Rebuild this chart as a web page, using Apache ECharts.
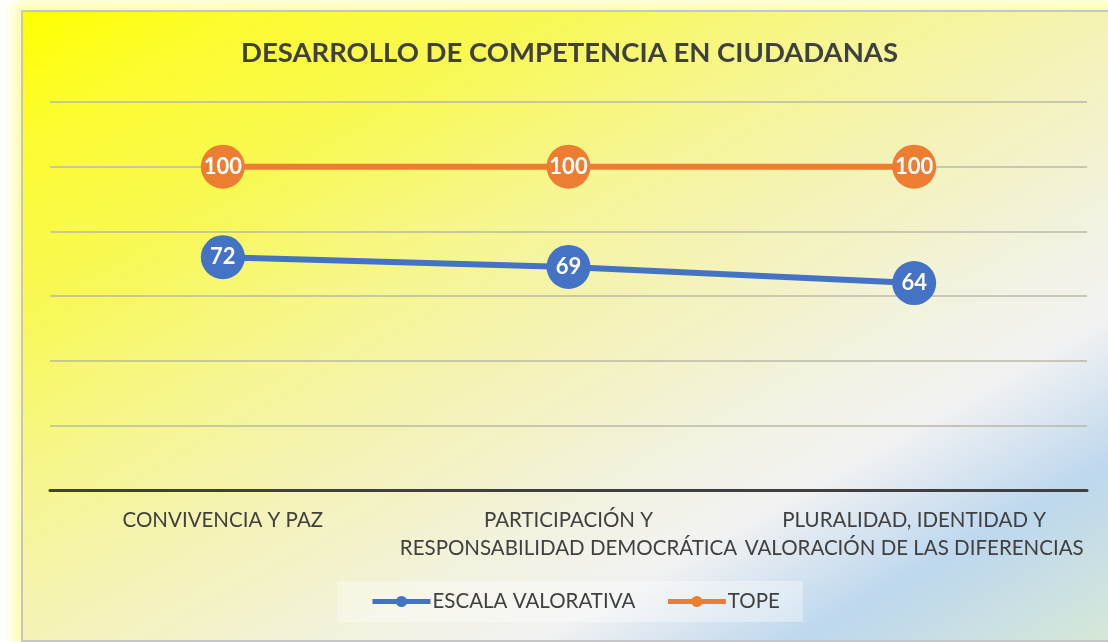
<!DOCTYPE html>
<html>

<head>
    <meta charset='UTF-8'>
    <script src="https://cdn.jsdelivr.net/npm/echarts@6/dist/echarts.min.js"></script>
    <style>
        html,
        body {
            margin: 0;
            padding: 0;
            background: #ffffff;
            overflow: hidden;
        }

        #frame {
            position: absolute;
            left: 21px;
            top: 10px;
            width: 1110px;
            height: 628px;
            border: 2px solid #c4c6cc;
            box-shadow: 0 0 12px 7px rgba(255, 255, 80, 0.55);
            background: linear-gradient(to bottom right, #ffff00 0%, #fcfc30 10%, #f8f855 24%, #f6f690 38%, #f4f3b0 48%, #f3f2cc 58%, #f2f2e4 66%, #f2f2f2 73%, #bdd7ee 85%, #d8e9d6 100%);
        }

        #chart {
            position: absolute;
            left: 0;
            top: 0;
            width: 1108px;
            height: 642px;
        }
    </style>
    <title>Competencias ciudadanas</title>
</head>

<body>
    <div id="frame"></div>
    <div id="chart"></div>

    <script>
        var categories = [
            'CONVIVENCIA Y PAZ',
            'PARTICIPACIÓN Y\nRESPONSABILIDAD DEMOCRÁTICA',
            'PLURALIDAD, IDENTIDAD Y\nVALORACIÓN DE LAS DIFERENCIAS'
        ];
        var escala = [72, 69, 64];
        var tope = [100, 100, 100];

        var myChart = echarts.init(document.getElementById('chart'), null, {
            renderer: 'canvas'
        });

        var labelStyle = {
            show: true,
            position: 'inside',
            color: '#ffffff',
            fontSize: 22,
            fontWeight: 'bold',
            fontFamily: 'Lato'
        };

        var option = {
            backgroundColor: 'rgba(0,0,0,0)',
            textStyle: {
                fontFamily: 'Lato'
            },
            title: {
                text: 'DESARROLLO DE COMPETENCIA EN CIUDADANAS',
                left: 236,
                top: 34,
                textStyle: {
                    color: '#404040',
                    fontSize: 27.5,
                    fontWeight: 'bold',
                    fontFamily: 'Lato'
                }
            },
            legend: {
                left: 337,
                top: 581,
                padding: [10, 23, 10, 33],
                itemGap: 30,
                itemWidth: 58,
                itemHeight: 14,
                backgroundColor: 'rgba(255,255,255,0.35)',
                lineStyle: {
                    width: 5
                },
                textStyle: {
                    color: '#404040',
                    fontSize: 20.5,
                    fontFamily: 'Lato',
                    padding: [0, 0, 0, -3]
                },
                data: ['ESCALA VALORATIVA', 'TOPE']
            },
            grid: {
                left: 50,
                right: 21,
                top: 102,
                bottom: 152
            },
            xAxis: {
                type: 'category',
                boundaryGap: true,
                data: categories,
                axisLine: {
                    lineStyle: {
                        color: '#404040',
                        width: 3
                    }
                },
                axisTick: {
                    show: false
                },
                axisLabel: {
                    interval: 0,
                    margin: 16,
                    color: '#404040',
                    fontSize: 20.5,
                    lineHeight: 28,
                    fontFamily: 'Lato'
                }
            },
            yAxis: {
                type: 'value',
                min: 0,
                max: 120,
                interval: 20,
                axisLabel: {
                    show: false
                },
                axisLine: {
                    show: false
                },
                axisTick: {
                    show: false
                },
                splitLine: {
                    lineStyle: {
                        color: '#b8b8a8',
                        width: 1.5
                    }
                }
            },
            series: [{
                name: 'ESCALA VALORATIVA',
                type: 'line',
                data: escala,
                symbol: 'circle',
                symbolSize: 44,
                color: '#4472c4',
                lineStyle: {
                    width: 6,
                    color: '#4472c4'
                },
                label: labelStyle
            }, {
                name: 'TOPE',
                type: 'line',
                data: tope,
                symbol: 'circle',
                symbolSize: 44,
                color: '#ed7d31',
                lineStyle: {
                    width: 6,
                    color: '#ed7d31'
                },
                label: labelStyle
            }]
        };

        myChart.setOption(option);
        window.addEventListener('resize', myChart.resize);
    </script>
</body>

</html>
